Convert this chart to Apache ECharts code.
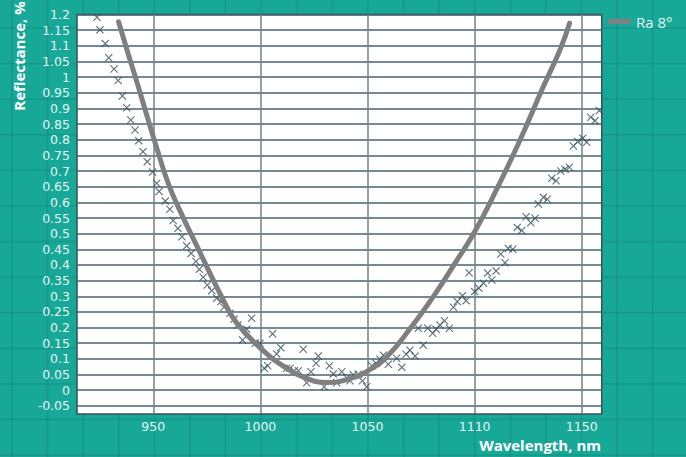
<!DOCTYPE html>
<html>
<head>
<meta charset="utf-8">
<script src="https://cdn.jsdelivr.net/npm/echarts@6/dist/echarts.min.js"></script>
<style>
  html, body {
    margin: 0;
    padding: 0;
    width: 686px;
    height: 457px;
    overflow: hidden;
    background-color: #18a897;
    background-image:
      linear-gradient(to right, rgba(0, 70, 60, 0.13) 2px, transparent 2px),
      linear-gradient(to bottom, rgba(0, 70, 60, 0.13) 2px, transparent 2px);
    background-size: 35.6px 35.6px;
    background-position: 11px 27px;
  }
  #chart { width: 686px; height: 457px; }
</style>
</head>
<body>
<div id="chart"></div>
<script>
// measured reflectance (crosses)
const scatterX = [
  923.7, 925.1, 927.6, 929.2, 931.7, 933.6, 935.6, 937.6, 939.5, 941.5,
  943.2, 945.2, 947.2, 949.7, 951.6, 952.7, 955.6, 957.7, 959.3, 961.5,
  963.4, 965.6, 967.7, 969.9, 971.5, 973.3, 975.2, 977.3, 979.6, 981.6,
  983.0, 985.8, 987.7, 989.5, 991.7, 993.6, 995.9, 997.6, 999.8, 1001.8,
  1003.4, 1005.7, 1007.6, 1009.5, 1012.3, 1013.8, 1015.8, 1017.7, 1020.0, 1021.6,
  1023.6, 1026.0, 1027.0, 1029.8, 1032.2, 1034.0, 1035.6, 1038.0, 1040.3, 1041.8,
  1043.4, 1045.7, 1047.6, 1049.6, 1052.0, 1054.0, 1055.8, 1057.4, 1059.7, 1063.6,
  1066.0, 1068.0, 1069.8, 1072.2, 1073.7, 1076.0, 1078.1, 1080.4, 1082.0, 1083.8,
  1085.9, 1088.2, 1090.1, 1091.9, 1094.3, 1096.0, 1097.4, 1100.0, 1102.0, 1104.1,
  1106.1, 1108.0, 1110.0, 1112.2, 1114.2, 1115.7, 1117.8, 1119.9, 1122.0, 1124.0,
  1126.2, 1128.2, 1129.7, 1132.1, 1133.9, 1136.0, 1138.0, 1140.2, 1142.2, 1144.2,
  1146.1, 1148.1, 1150.5, 1152.3, 1154.2, 1156.2, 1158.2
];
const scatterY = [
  1.191, 1.151, 1.107, 1.062, 1.026, 0.989, 0.940, 0.902, 0.863, 0.831,
  0.797, 0.762, 0.730, 0.697, 0.661, 0.635, 0.604, 0.578, 0.542, 0.517,
  0.490, 0.461, 0.437, 0.411, 0.386, 0.361, 0.336, 0.318, 0.294, 0.283,
  0.265, 0.246, 0.227, 0.208, 0.160, 0.195, 0.230, 0.150, 0.150, 0.070,
  0.078, 0.180, 0.116, 0.136, 0.070, 0.070, 0.062, 0.062, 0.131, 0.024,
  0.059, 0.086, 0.109, 0.011, 0.078, 0.052, 0.024, 0.059, 0.040, 0.030,
  0.049, 0.051, 0.030, 0.011, 0.078, 0.086, 0.099, 0.112, 0.083, 0.102,
  0.073, 0.115, 0.128, 0.109, 0.198, 0.144, 0.198, 0.182, 0.195, 0.208,
  0.222, 0.198, 0.265, 0.283, 0.302, 0.286, 0.375, 0.315, 0.326, 0.342,
  0.374, 0.352, 0.381, 0.435, 0.407, 0.453, 0.450, 0.520, 0.510, 0.554,
  0.535, 0.549, 0.595, 0.616, 0.610, 0.677, 0.669, 0.700, 0.706, 0.712,
  0.780, 0.794, 0.805, 0.792, 0.872, 0.861, 0.893
];

// Ra 8° curve
const curveX = [
  933.8, 938.2, 942.9, 947.5, 952.2, 956.9, 962.0, 971.8, 982.4, 988.9,
  999.8, 1010.7, 1021.6, 1031.0, 1041.8, 1050.7, 1059.0, 1069.8, 1080.7, 1091.6,
  1100.0, 1110.3, 1121.2, 1131.3, 1140.0, 1144.3
];
const curveY = [
  1.177, 1.076, 0.972, 0.866, 0.761, 0.662, 0.580, 0.440, 0.292, 0.215,
  0.136, 0.077, 0.038, 0.025, 0.037, 0.064, 0.107, 0.196, 0.299, 0.414,
  0.506, 0.642, 0.799, 0.958, 1.090, 1.172
];

const xTickValues = [950, 1000, 1050, 1100, 1150];
const xTickLabels = ['950', '1000', '1050', '1110', '1150'];
const yTickValues = [
  -0.05, 0, 0.05, 0.1, 0.15, 0.2, 0.25, 0.3, 0.35, 0.4, 0.45, 0.5, 0.55,
  0.6, 0.65, 0.7, 0.75, 0.8, 0.85, 0.9, 0.95, 1, 1.05, 1.1, 1.15, 1.2
];

const chart = echarts.init(document.getElementById('chart'), null, { renderer: 'svg' });

const labelColor = '#e3f5f2';
const gridColor = '#4a636e';
const tickFont = '"DejaVu Sans", sans-serif';
const crossPath = 'path://M0,1 L1,0 L5,4 L9,0 L10,1 L6,5 L10,9 L9,10 L5,6 L1,10 L0,9 L4,5 Z';

chart.setOption({
  backgroundColor: 'transparent',
  animation: false,
  textStyle: { fontFamily: '"Open Sans", sans-serif' },
  grid: {
    left: 77,
    top: 14.5,
    right: 84.3,
    bottom: 43,
    show: true,
    backgroundColor: '#ffffff',
    borderColor: '#34505b',
    borderWidth: 1.5,
  },
  legend: {
    data: ['Ra 8°'],
    left: 603,
    top: 9,
    icon: 'roundRect',
    itemWidth: 23,
    itemHeight: 5,
    itemStyle: { color: '#808080' },
    textStyle: { color: labelColor, fontSize: 15, fontFamily: '"Open Sans", sans-serif' },
  },
  xAxis: {
    type: 'value',
    min: 914.4,
    max: 1159.3,
    axisLine: { show: false },
    axisTick: { show: false, customValues: xTickValues },
    axisLabel: {
      customValues: xTickValues,
      color: labelColor,
      fontSize: 12.5,
      fontFamily: tickFont,
      margin: 6,
      formatter: (v) => xTickLabels[xTickValues.indexOf(v)],
    },
    splitLine: { show: true, lineStyle: { color: '#6e838c', width: 1.5 } },
  },
  yAxis: {
    type: 'value',
    min: -0.076,
    max: 1.2,
    axisLine: { show: false },
    axisTick: { show: false, customValues: yTickValues },
    axisLabel: {
      customValues: yTickValues,
      color: labelColor,
      fontSize: 12.5,
      fontFamily: tickFont,
      lineHeight: 14,
      margin: 7,
      formatter: (v) => String(Math.round(v * 100) / 100),
    },
    splitLine: { show: true, lineStyle: { color: gridColor, width: 1.5 } },
  },
  graphic: [
    {
      type: 'text',
      x: 19,
      y: 56,
      rotation: Math.PI / 2,
      style: {
        text: 'Reflectance, %',
        fill: '#ffffff',
        font: 'bold 15px "Open Sans", sans-serif',
        align: 'center',
        verticalAlign: 'middle',
      },
    },
    {
      type: 'text',
      x: 601,
      y: 445,
      style: {
        text: 'Wavelength, nm',
        fill: '#ffffff',
        font: 'bold 15px "Open Sans", sans-serif',
        align: 'right',
        verticalAlign: 'middle',
      },
    },
  ],
  series: [
    {
      name: 'Ra 8°',
      type: 'line',
      data: curveX.map((x, i) => [x, curveY[i]]),
      smooth: true,
      symbol: 'none',
      lineStyle: { color: '#7f7f7f', width: 5, cap: 'round' },
      itemStyle: { color: '#7f7f7f' },
    },
    {
      name: 'measured',
      type: 'scatter',
      data: scatterX.map((x, i) => [x, scatterY[i]]),
      symbol: crossPath,
      symbolSize: [8, 8],
      itemStyle: { color: '#36515e' },
    },
  ],
});
</script>
</body>
</html>
